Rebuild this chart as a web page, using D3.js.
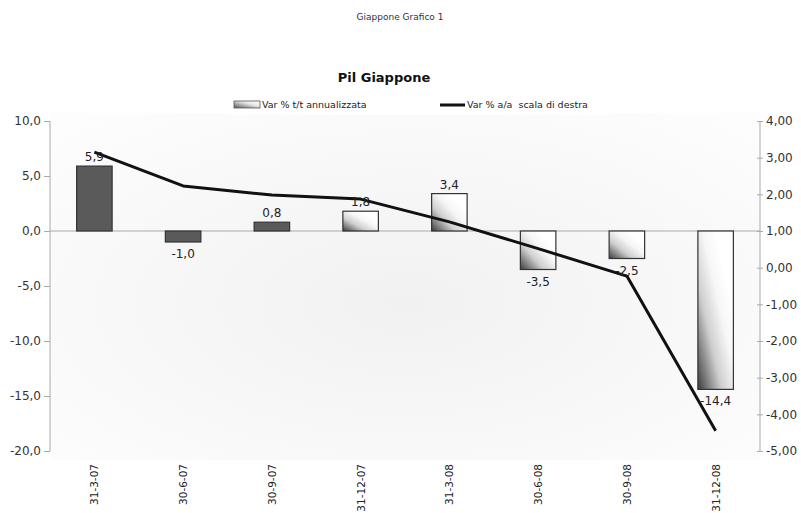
<!DOCTYPE html>
<html>
<head>
<meta charset="utf-8">
<script src="https://cdn.jsdelivr.net/npm/d3@7/dist/d3.min.js"></script>
<style>
  html, body { margin: 0; padding: 0; background: #fff; }
  svg { display: block; font-family: "DejaVu Sans", Verdana, sans-serif; }
</style>
</head>
<body>
<svg id="chart" width="801" height="513"></svg>
<script>
// Quarterly dates
const categories = ["31-3-07", "30-6-07", "30-9-07", "31-12-07", "31-3-08", "30-6-08", "30-9-08", "31-12-08"];
// Var % t/t annualizzata (bars, left axis)
const qoqValues = [5.9, -1.0, 0.8, 1.8, 3.4, -3.5, -2.5, -14.4];
// Var % a/a (line, right axis)
const yoyValues = [3.15, 2.23, 1.98, 1.87, 1.25, 0.52, -0.23, -4.45];
// Bars drawn with solid fill (the rest use the gradient fill)
const solidBars = [true, true, true, false, false, false, false, false];
const leftTicks = [10, 5, 0, -5, -10, -15, -20];
const rightTicks = [4, 3, 2, 1, 0, -1, -2, -3, -4, -5];

const svg = d3.select("#chart");
const plotLeft = 50, plotRight = 760, plotTop = 121, plotBottom = 451;

const x = d3.scaleBand().domain(categories).range([plotLeft, plotRight]).paddingInner(0.6).paddingOuter(0.3);
const yL = d3.scaleLinear().domain([-20, 10]).range([plotBottom, plotTop]);
const yR = d3.scaleLinear().domain([-5, 4]).range([plotBottom, plotTop]);

const fmt1 = v => d3.format(".1f")(v).replace(".", ",").replace("−", "-");
const fmt2 = v => d3.format(".2f")(v).replace(".", ",").replace("−", "-");

const defs = svg.append("defs");
const bg = defs.append("radialGradient").attr("id", "bgGrad")
  .attr("cx", "0.5").attr("cy", "0.55").attr("r", "0.7");
bg.append("stop").attr("offset", "0").attr("stop-color", "#f1f1f1");
bg.append("stop").attr("offset", "1").attr("stop-color", "#fdfdfd");

const barGrad = defs.append("linearGradient").attr("id", "barGrad")
  .attr("x1", "0").attr("y1", "1").attr("x2", "0.75").attr("y2", "0.25");
barGrad.append("stop").attr("offset", "0").attr("stop-color", "#3c3c3c");
barGrad.append("stop").attr("offset", "0.45").attr("stop-color", "#cfcfcf");
barGrad.append("stop").attr("offset", "0.75").attr("stop-color", "#f6f6f6");
barGrad.append("stop").attr("offset", "1").attr("stop-color", "#ffffff");

const legGrad = defs.append("linearGradient").attr("id", "legGrad")
  .attr("x1", "0").attr("y1", "1").attr("x2", "1").attr("y2", "0");
legGrad.append("stop").attr("offset", "0").attr("stop-color", "#555");
legGrad.append("stop").attr("offset", "0.6").attr("stop-color", "#e8e8e8");
legGrad.append("stop").attr("offset", "1").attr("stop-color", "#fff");

// Plot background
svg.append("rect").attr("x", plotLeft).attr("y", 113).attr("width", plotRight - plotLeft).attr("height", 347)
  .attr("fill", "url(#bgGrad)");

// Titles
svg.append("text").attr("x", 400).attr("y", 20).attr("text-anchor", "middle")
  .attr("font-size", 9).attr("fill", "#333").text("Giappone Grafico 1");
svg.append("text").attr("x", 384).attr("y", 82).attr("text-anchor", "middle")
  .attr("font-size", 13).attr("font-weight", "bold").attr("fill", "#111").text("Pil Giappone");

// Legend
const leg = svg.append("g");
leg.append("rect").attr("x", 225).attr("y", 93).attr("width", 385).attr("height", 22).attr("fill", "#fff");
leg.append("rect").attr("x", 234).attr("y", 101).attr("width", 26).attr("height", 7)
  .attr("fill", "url(#legGrad)").attr("stroke", "#555").attr("stroke-width", 0.8);
leg.append("text").attr("x", 262).attr("y", 108).attr("font-size", 9.5).attr("fill", "#222")
  .text("Var % t/t annualizzata");
leg.append("line").attr("x1", 440).attr("x2", 465).attr("y1", 105).attr("y2", 105)
  .attr("stroke", "#111").attr("stroke-width", 3);
leg.append("text").attr("x", 467).attr("y", 108).attr("font-size", 9.5).attr("fill", "#222")
  .attr("xml:space", "preserve").text("Var % a/a  scala di destra");

// Left axis
const axL = svg.append("g").attr("transform", `translate(${plotLeft},0)`)
  .call(d3.axisLeft(yL).tickValues(leftTicks).tickSize(6).tickFormat(fmt1));
axL.select(".domain").attr("stroke", "#aaa").attr("d", `M0,${plotTop}V${plotBottom}`);
axL.selectAll(".tick line").attr("stroke", "#aaa");
axL.selectAll(".tick text").attr("font-size", 12).attr("fill", "#333")
  .attr("font-family", "DejaVu Sans, sans-serif").attr("x", -9);

// Right axis
const axR = svg.append("g").attr("transform", `translate(${plotRight},0)`)
  .call(d3.axisRight(yR).tickValues(rightTicks).tickSize(3).tickFormat(fmt2));
axR.select(".domain").attr("stroke", "#aaa").attr("d", `M0,${plotTop}V${plotBottom}`);
axR.selectAll(".tick line").attr("stroke", "#aaa").attr("x1", -3);
axR.selectAll(".tick text").attr("font-size", 12).attr("fill", "#333")
  .attr("font-family", "DejaVu Sans, sans-serif").attr("x", 6);

// Zero line
svg.append("line").attr("x1", plotLeft).attr("x2", plotRight).attr("y1", yL(0)).attr("y2", yL(0))
  .attr("stroke", "#aaa").attr("stroke-width", 1.2);

// Bars
svg.append("g").selectAll("rect").data(qoqValues).join("rect")
  .attr("x", (d, i) => x(categories[i]))
  .attr("width", x.bandwidth())
  .attr("y", d => yL(Math.max(0, d)))
  .attr("height", d => Math.abs(yL(d) - yL(0)))
  .attr("fill", (d, i) => solidBars[i] ? "#5a5a5a" : "url(#barGrad)")
  .attr("stroke", "#333").attr("stroke-width", 1.2);

// Line on right axis
const line = d3.line().x((d, i) => x(categories[i]) + x.bandwidth() / 2).y(d => yR(d));
svg.append("path").datum(yoyValues).attr("d", line)
  .attr("fill", "none").attr("stroke", "#111").attr("stroke-width", 3).attr("stroke-linejoin", "round");

// Bar value labels
svg.append("g").selectAll("text").data(qoqValues).join("text")
  .attr("x", (d, i) => x(categories[i]) + x.bandwidth() / 2)
  .attr("y", d => d >= 0 ? yL(d) - 5 : yL(d) + 16)
  .attr("text-anchor", "middle").attr("font-size", 12).attr("fill", "#222")
  .text(d => fmt1(d));

// Category labels, rotated
svg.append("g").selectAll("text").data(categories).join("text")
  .attr("transform", d => `translate(${x(d) + x.bandwidth() / 2 + 4},464) rotate(-90)`)
  .attr("text-anchor", "end").attr("font-size", 10.5).attr("fill", "#222")
  .text(d => d);
</script>
</body>
</html>
